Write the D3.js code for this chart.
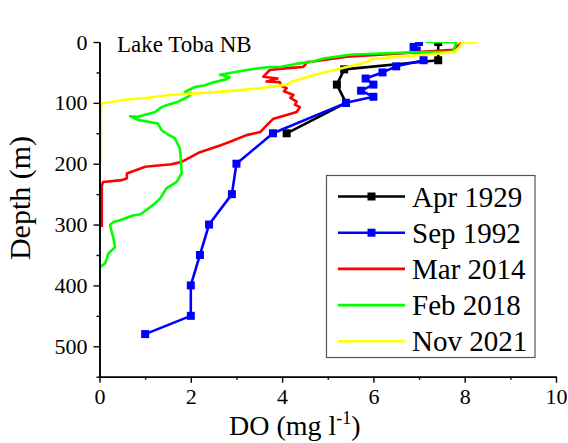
<!DOCTYPE html>
<html>
<head>
<meta charset="utf-8">
<script src="https://cdn.jsdelivr.net/npm/d3@7"></script>
<style>
  body { margin: 0; background: #fff; }
</style>
</head>
<body>
<div id="chart"></div>
<script>
// DO profiles, Lake Toba north basin (depth in m, DO in mg/l)
const apr1929Depth = [0, 30, 45, 70, 100, 150];
const apr1929DO = [7.42, 7.42, 5.36, 5.2, 5.4, 4.1];

const sep1992Depth = [0, 8, 14, 30, 40, 50, 60, 70, 80, 90, 100, 150, 200, 250, 300, 350, 400, 450, 480];
const sep1992DO = [7.0, 6.88, 6.95, 7.1, 6.5, 6.2, 5.83, 6.0, 5.73, 6.0, 5.4, 3.8, 3.0, 2.9, 2.4, 2.2, 2.0, 2.0, 1.0];

const mar2014Depth = [0, 6, 13, 17, 21, 24, 32, 33, 38, 41, 43, 46, 57, 60, 65, 66, 72, 76, 81, 87, 92, 98, 103, 107,
  115, 120, 126, 137, 148, 153, 164, 170, 181, 197, 201, 205, 216, 224, 227, 230, 236, 304];
const mar2014DO = [7.95, 7.85, 7.74, 6.9, 6.14, 5.42, 4.68, 4.54, 4.5, 4.46, 4.1, 3.73, 3.59, 3.9, 3.66, 3.95, 3.98, 4.1, 4.04, 4.25, 4.18, 4.32, 4.28, 4.39,
  4.32, 4.1, 3.81, 3.66, 3.52, 3.22, 2.86, 2.64, 2.2, 1.8, 1.58, 1.0, 0.6, 0.6, 0.49, 0.08, 0.05, 0.05];

const feb2018Depth = [0, 0, 8, 16, 17, 19, 21, 27, 32, 36, 41, 41, 44, 49, 54, 58, 61, 66, 71, 74,
  82, 86, 90, 98, 103, 107, 115, 123, 122, 128, 134, 145, 152, 158, 175, 190, 216, 230, 240, 257,
  268, 283, 285, 293, 296, 301, 321, 337, 348, 356, 364, 370, 384];
const feb2018DO = [7.15, 7.82, 7.78, 7.74, 6.9, 6.14, 5.49, 4.9, 4.68, 4.3, 3.95, 3.73, 3.4, 3.0, 2.64, 2.85, 2.79, 2.5, 2.31, 2.09,
  1.87, 2.0, 1.94, 1.72, 1.5, 1.36, 1.22, 0.84, 0.67, 0.84, 1.28, 1.36, 1.5, 1.65, 1.76, 1.78, 1.8, 1.69, 1.47, 1.33,
  1.17, 0.9, 0.73, 0.45, 0.3, 0.23, 0.3, 0.34, 0.19, 0.16, 0.12, 0.01, 0];

const nov2021Depth = [0, 1, 8, 16, 19, 24, 28, 33, 40, 53, 65, 70, 76, 82, 87, 92, 95, 101, 110, 200];
const nov2021DO = [8.29, 7.94, 7.89, 7.79, 7.46, 6.58, 5.97, 5.86, 5.49, 4.76, 4.22, 4.11, 3.52, 2.64, 1.54, 1.0, 0.56, 0.05, 0.03, 0.03];

const seriesNames = ['Apr 1929', 'Sep 1992', 'Mar 2014', 'Feb 2018', 'Nov 2021'];
const seriesColors = ['#000000', '#0000ff', '#ff0000', '#00ff00', '#ffff00'];
const seriesMarkers = [true, true, false, false, false];

const xTicks = [0, 2, 4, 6, 8, 10];
const xMinor = [1, 3, 5, 7, 9];
const yTicks = [0, 100, 200, 300, 400, 500];
const yMinor = [50, 150, 250, 350, 450, 550];

const W = 568, H = 443;
const FONT = "'Liberation Serif', 'Times New Roman', Times, serif";

const series = [
  { depth: apr1929Depth, val: apr1929DO },
  { depth: sep1992Depth, val: sep1992DO },
  { depth: mar2014Depth, val: mar2014DO },
  { depth: feb2018Depth, val: feb2018DO },
  { depth: nov2021Depth, val: nov2021DO }
].map((s, i) => ({
  name: seriesNames[i], color: seriesColors[i], marker: seriesMarkers[i],
  pts: s.depth.map((d, j) => ({ depth: d, val: s.val[j] }))
}));

const svg = d3.select('#chart').append('svg')
  .attr('width', W).attr('height', H)
  .attr('font-family', FONT);

const x = d3.scaleLinear().domain([0, 10]).range([99.5, 556]);
const y = d3.scaleLinear().domain([0, 550]).range([42, 376.7]);

svg.append('clipPath').attr('id', 'plotclip')
  .append('rect')
  .attr('x', x(0)).attr('y', y(0))
  .attr('width', x(10) - x(0)).attr('height', y(550) - y(0));

const plot = svg.append('g').attr('clip-path', 'url(#plotclip)');
const line = d3.line().x(d => x(d.val)).y(d => y(d.depth));

series.forEach(s => {
  plot.append('path')
    .datum(s.pts)
    .attr('d', line)
    .attr('fill', 'none')
    .attr('stroke', s.color)
    .attr('stroke-width', 2.6)
    .attr('stroke-linejoin', 'round');
  if (s.marker) {
    plot.selectAll(null).data(s.pts).enter().append('rect')
      .attr('x', d => x(d.val) - 4).attr('y', d => y(d.depth) - 4)
      .attr('width', 8).attr('height', 8)
      .attr('fill', s.color);
  }
});

// axes
function styleAxis(g) {
  g.attr('font-family', FONT).attr('font-size', 22);
  g.select('.domain').attr('stroke', '#000').attr('stroke-width', 1.6);
  g.selectAll('.tick line').attr('stroke', '#000').attr('stroke-width', 1.4);
  g.selectAll('text').attr('fill', '#000');
}

svg.append('g').attr('transform', `translate(${x(0)},0)`)
  .call(d3.axisLeft(y).tickValues(yTicks).tickSize(6).tickPadding(6).tickSizeOuter(0))
  .call(styleAxis);
svg.append('g').attr('transform', `translate(${x(0)},0)`)
  .call(d3.axisLeft(y).tickValues(yMinor).tickSize(3).tickFormat('').tickSizeOuter(0))
  .call(styleAxis);

svg.append('g').attr('transform', `translate(0,${y(550)})`)
  .call(d3.axisBottom(x).tickValues(xTicks).tickSize(6).tickPadding(6).tickSizeOuter(0))
  .call(styleAxis);
svg.append('g').attr('transform', `translate(0,${y(550)})`)
  .call(d3.axisBottom(x).tickValues(xMinor).tickSize(3).tickFormat('').tickSizeOuter(0))
  .call(styleAxis);

// axis titles
svg.append('text')
  .attr('transform', 'translate(30,198) rotate(-90)')
  .attr('text-anchor', 'middle')
  .attr('font-family', FONT).attr('font-size', 30)
  .text('Depth (m)');

const xt = svg.append('text')
  .attr('x', 229).attr('y', 435)
  .attr('font-family', FONT).attr('font-size', 28);
xt.append('tspan').text('DO (mg l');
xt.append('tspan').attr('dy', -11).attr('font-size', 18).text('-1');
xt.append('tspan').attr('dy', 11).text(')');

svg.append('text')
  .attr('x', 117).attr('y', 52)
  .attr('font-family', FONT).attr('font-size', 23)
  .text('Lake Toba NB');

// legend
const lg = svg.append('g');
lg.append('rect')
  .attr('x', 326.5).attr('y', 175.5).attr('width', 208.5).attr('height', 182)
  .attr('fill', '#fff').attr('stroke', '#555').attr('stroke-width', 1.2);

series.forEach((s, i) => {
  const cy = 196.5 + i * 36.2;
  lg.append('line')
    .attr('x1', 338).attr('x2', 405).attr('y1', cy).attr('y2', cy)
    .attr('stroke', s.color).attr('stroke-width', 2.6);
  if (s.marker) {
    lg.append('rect')
      .attr('x', 371.5 - 4).attr('y', cy - 4).attr('width', 8).attr('height', 8)
      .attr('fill', s.color);
  }
  lg.append('text')
    .attr('x', 412).attr('y', cy + 10)
    .attr('font-family', FONT).attr('font-size', 29)
    .text(s.name);
});
</script>
</body>
</html>
